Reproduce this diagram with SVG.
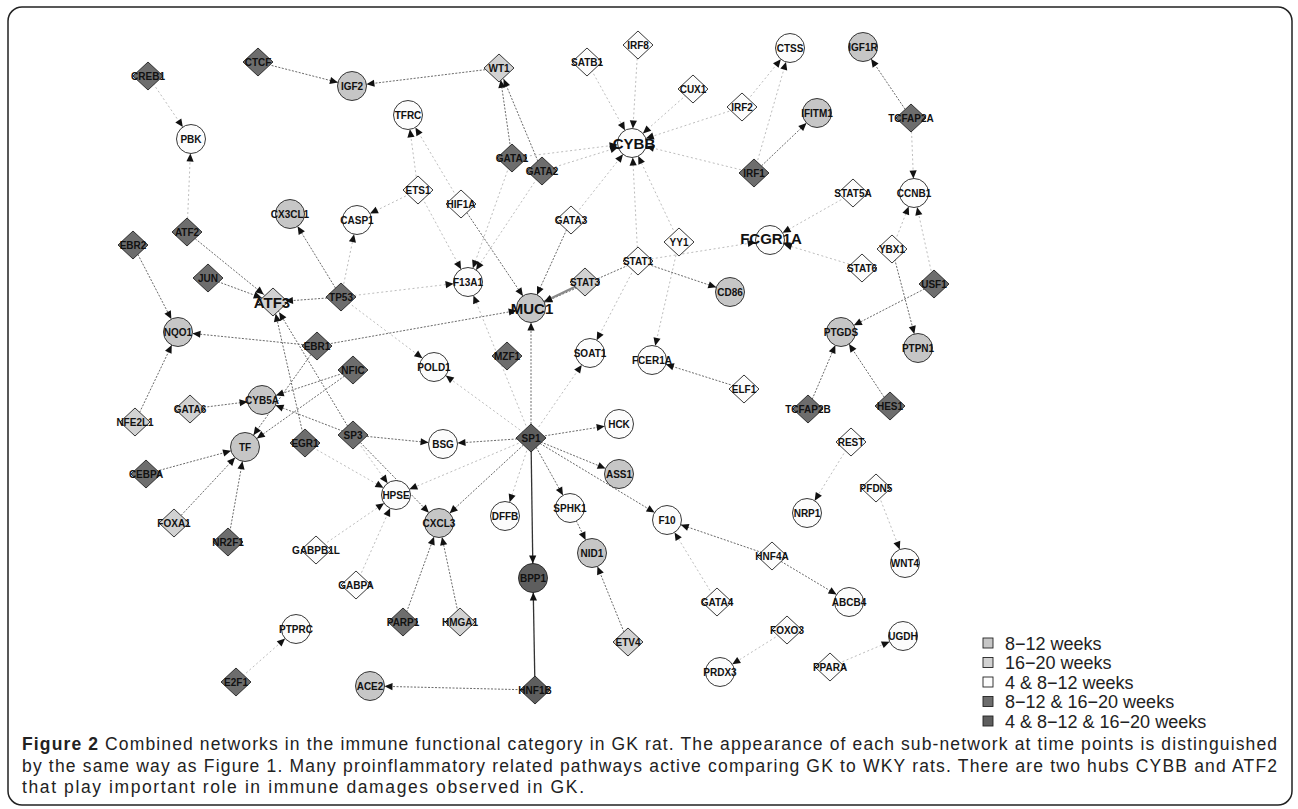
<svg xmlns="http://www.w3.org/2000/svg" width="1298" height="809" viewBox="0 0 1298 809">
<style>
.bg{fill:#fff}
.frame{fill:none;stroke:#222;stroke-width:1.5}
.e{stroke:#6a6a6a;stroke-width:1;stroke-dasharray:2 1.5;fill:none}
.f{stroke:#bdbdbd;stroke-width:1;stroke-dasharray:2 2.5;fill:none}
.s{stroke:#333;stroke-width:1.3;fill:none}
.sh{stroke:#222;stroke-width:0.9}
.dk{fill:#6d6d6d}
.dd{fill:#5e5e5e}
.lg{fill:#d2d2d2}
.gr{fill:#c6c6c6}
.wh{fill:#fcfcfc}
.l{font-family:"Liberation Sans",Arial,sans-serif;font-weight:bold;font-size:10px;fill:#111;text-anchor:middle}
.big{font-family:"Liberation Sans",Arial,sans-serif;font-weight:bold;font-size:15px;fill:#111;text-anchor:middle}
.leg{font-family:"Liberation Sans",Arial,sans-serif;font-size:18px;fill:#222}
.cap{font-family:"Liberation Sans",Arial,sans-serif;font-size:17.5px;fill:#222}
.capb{font-weight:bold}
</style>
<defs>
<marker id="ac" markerUnits="userSpaceOnUse" viewBox="-26 -6 28 12" refX="0" refY="0" markerWidth="28" markerHeight="12" orient="auto" overflow="visible">
<path d="M-14.5,0 L-22.5,-3.6 L-22.5,3.6 z" fill="#111"/>
</marker>
<marker id="ad" markerUnits="userSpaceOnUse" viewBox="-26 -6 28 12" refX="0" refY="0" markerWidth="28" markerHeight="12" orient="auto" overflow="visible">
<path d="M-12,0 L-20,-3.6 L-20,3.6 z" fill="#111"/>
</marker>
</defs>
<rect class="bg" x="0" y="0" width="1298" height="809"/>
<rect class="frame" x="8" y="7" width="1284" height="798" rx="14"/>

<g id="connectors">
<line class="f" x1="148" y1="76" x2="191" y2="139" marker-end="url(#ac)"/>
<line class="f" x1="187" y1="232" x2="191" y2="139" marker-end="url(#ac)"/>
<line class="f" x1="512" y1="158" x2="632" y2="143" marker-end="url(#ac)"/>
<line class="f" x1="542" y1="171" x2="632" y2="143" marker-end="url(#ac)"/>
<line class="f" x1="587" y1="62" x2="632" y2="143" marker-end="url(#ac)"/>
<line class="f" x1="638" y1="45" x2="632" y2="143" marker-end="url(#ac)"/>
<line class="f" x1="693" y1="89" x2="632" y2="143" marker-end="url(#ac)"/>
<line class="f" x1="742" y1="107" x2="632" y2="143" marker-end="url(#ac)"/>
<line class="f" x1="754" y1="173" x2="632" y2="143" marker-end="url(#ac)"/>
<line class="f" x1="679" y1="242" x2="632" y2="143" marker-end="url(#ac)"/>
<line class="f" x1="638" y1="261" x2="632" y2="143" marker-end="url(#ac)"/>
<line class="f" x1="571" y1="220" x2="632" y2="143" marker-end="url(#ac)"/>
<line class="f" x1="754" y1="173" x2="790" y2="48" marker-end="url(#ac)"/>
<line class="f" x1="742" y1="107" x2="790" y2="48" marker-end="url(#ac)"/>
<line class="f" x1="911" y1="118" x2="914" y2="193" marker-end="url(#ac)"/>
<line class="f" x1="892" y1="249" x2="914" y2="193" marker-end="url(#ac)"/>
<line class="f" x1="934" y1="284" x2="914" y2="193" marker-end="url(#ac)"/>
<line class="f" x1="853" y1="193" x2="770" y2="240" marker-end="url(#ac)"/>
<line class="f" x1="862" y1="268" x2="770" y2="240" marker-end="url(#ac)"/>
<line class="f" x1="638" y1="261" x2="770" y2="240" marker-end="url(#ac)"/>
<line class="f" x1="418" y1="190" x2="408" y2="115" marker-end="url(#ac)"/>
<line class="f" x1="461" y1="204" x2="408" y2="115" marker-end="url(#ac)"/>
<line class="f" x1="418" y1="190" x2="357" y2="220" marker-end="url(#ac)"/>
<line class="f" x1="341" y1="297" x2="357" y2="220" marker-end="url(#ac)"/>
<line class="f" x1="418" y1="190" x2="468" y2="282" marker-end="url(#ac)"/>
<line class="f" x1="512" y1="158" x2="468" y2="282" marker-end="url(#ac)"/>
<line class="f" x1="542" y1="171" x2="468" y2="282" marker-end="url(#ac)"/>
<line class="f" x1="341" y1="297" x2="468" y2="282" marker-end="url(#ac)"/>
<line class="f" x1="531" y1="438" x2="468" y2="282" marker-end="url(#ac)"/>
<line class="f" x1="341" y1="297" x2="434" y2="367" marker-end="url(#ac)"/>
<line class="f" x1="531" y1="438" x2="434" y2="367" marker-end="url(#ac)"/>
<line class="f" x1="531" y1="438" x2="590" y2="353" marker-end="url(#ac)"/>
<line class="f" x1="638" y1="261" x2="590" y2="353" marker-end="url(#ac)"/>
<line class="f" x1="679" y1="242" x2="652" y2="360" marker-end="url(#ac)"/>
<line class="f" x1="531" y1="438" x2="396" y2="495" marker-end="url(#ac)"/>
<line class="f" x1="531" y1="438" x2="505" y2="516" marker-end="url(#ac)"/>
<line class="f" x1="316" y1="550" x2="396" y2="495" marker-end="url(#ac)"/>
<line class="f" x1="356" y1="585" x2="396" y2="495" marker-end="url(#ac)"/>
<line class="f" x1="353" y1="435" x2="396" y2="495" marker-end="url(#ac)"/>
<line class="f" x1="305" y1="443" x2="396" y2="495" marker-end="url(#ac)"/>
<line class="f" x1="236" y1="682" x2="296" y2="629" marker-end="url(#ac)"/>
<line class="f" x1="851" y1="442" x2="807" y2="513" marker-end="url(#ac)"/>
<line class="f" x1="876" y1="488" x2="905" y2="563" marker-end="url(#ac)"/>
<line class="f" x1="717" y1="602" x2="667" y2="520" marker-end="url(#ac)"/>
<line class="f" x1="787" y1="630" x2="720" y2="672" marker-end="url(#ac)"/>
<line class="f" x1="830" y1="667" x2="903" y2="636" marker-end="url(#ac)"/>
<line class="e" x1="258" y1="62" x2="352" y2="86" marker-end="url(#ac)"/>
<line class="e" x1="499" y1="68" x2="352" y2="86" marker-end="url(#ac)"/>
<line class="e" x1="512" y1="158" x2="499" y2="68" marker-end="url(#ad)"/>
<line class="e" x1="542" y1="171" x2="499" y2="68" marker-end="url(#ad)"/>
<line class="e" x1="911" y1="118" x2="863" y2="47" marker-end="url(#ac)"/>
<line class="e" x1="754" y1="173" x2="817" y2="113" marker-end="url(#ac)"/>
<line class="e" x1="187" y1="232" x2="273" y2="302" marker-end="url(#ad)"/>
<line class="e" x1="208" y1="278" x2="273" y2="302" marker-end="url(#ad)"/>
<line class="e" x1="341" y1="297" x2="273" y2="302" marker-end="url(#ad)"/>
<line class="e" x1="305" y1="443" x2="273" y2="302" marker-end="url(#ad)"/>
<line class="e" x1="353" y1="435" x2="273" y2="302" marker-end="url(#ad)"/>
<line class="e" x1="133" y1="245" x2="178" y2="332" marker-end="url(#ac)"/>
<line class="e" x1="135" y1="422" x2="178" y2="332" marker-end="url(#ac)"/>
<line class="e" x1="317" y1="346" x2="178" y2="332" marker-end="url(#ac)"/>
<line class="e" x1="317" y1="346" x2="531" y2="308" marker-end="url(#ac)"/>
<line class="e" x1="317" y1="346" x2="245" y2="447" marker-end="url(#ac)"/>
<line class="e" x1="190" y1="409" x2="262" y2="400" marker-end="url(#ac)"/>
<line class="e" x1="353" y1="370" x2="262" y2="400" marker-end="url(#ac)"/>
<line class="e" x1="353" y1="370" x2="245" y2="447" marker-end="url(#ac)"/>
<line class="e" x1="353" y1="435" x2="262" y2="400" marker-end="url(#ac)"/>
<line class="e" x1="146" y1="474" x2="245" y2="447" marker-end="url(#ac)"/>
<line class="e" x1="174" y1="523" x2="245" y2="447" marker-end="url(#ac)"/>
<line class="e" x1="228" y1="542" x2="245" y2="447" marker-end="url(#ac)"/>
<line class="e" x1="341" y1="297" x2="290" y2="214" marker-end="url(#ac)"/>
<line class="e" x1="461" y1="204" x2="531" y2="308" marker-end="url(#ac)"/>
<line class="e" x1="571" y1="220" x2="531" y2="308" marker-end="url(#ac)"/>
<line class="e" x1="638" y1="261" x2="531" y2="308" marker-end="url(#ac)"/>
<line x1="585" y1="282" x2="531" y2="308" stroke="#8a8a8a" stroke-width="2.2" marker-end="url(#ac)"/>
<line class="e" x1="638" y1="261" x2="730" y2="292" marker-end="url(#ac)"/>
<line class="e" x1="531" y1="438" x2="531" y2="308" marker-end="url(#ac)"/>
<line class="e" x1="531" y1="438" x2="443" y2="444" marker-end="url(#ac)"/>
<line class="e" x1="353" y1="435" x2="443" y2="444" marker-end="url(#ac)"/>
<line class="e" x1="531" y1="438" x2="619" y2="474" marker-end="url(#ac)"/>
<line class="e" x1="531" y1="438" x2="439" y2="523" marker-end="url(#ac)"/>
<line class="e" x1="353" y1="435" x2="439" y2="523" marker-end="url(#ac)"/>
<line class="e" x1="531" y1="438" x2="570" y2="508" marker-end="url(#ac)"/>
<line class="e" x1="570" y1="508" x2="592" y2="553" marker-end="url(#ac)"/>
<line class="e" x1="628" y1="642" x2="592" y2="553" marker-end="url(#ac)"/>
<line class="e" x1="403" y1="622" x2="439" y2="523" marker-end="url(#ac)"/>
<line class="e" x1="460" y1="622" x2="439" y2="523" marker-end="url(#ac)"/>
<line class="e" x1="535" y1="690" x2="370" y2="686" marker-end="url(#ac)"/>
<line class="e" x1="934" y1="284" x2="841" y2="332" marker-end="url(#ac)"/>
<line class="e" x1="892" y1="249" x2="918" y2="348" marker-end="url(#ac)"/>
<line class="e" x1="808" y1="409" x2="841" y2="332" marker-end="url(#ac)"/>
<line class="e" x1="890" y1="406" x2="841" y2="332" marker-end="url(#ac)"/>
<line class="e" x1="744" y1="389" x2="652" y2="360" marker-end="url(#ac)"/>
<line class="e" x1="772" y1="556" x2="849" y2="602" marker-end="url(#ac)"/>
<line class="e" x1="772" y1="556" x2="667" y2="520" marker-end="url(#ac)"/>
<line class="e" x1="531" y1="438" x2="667" y2="520" marker-end="url(#ac)"/>
<line class="e" x1="531" y1="438" x2="619" y2="424" marker-end="url(#ac)"/>
<line class="s" x1="531" y1="438" x2="533" y2="578" marker-end="url(#ac)"/>
<line class="s" x1="535" y1="690" x2="533" y2="578" marker-end="url(#ac)"/>
</g>

<g id="nodes">
<g id="n-CREB1" transform="translate(148,76)"><polygon class="sh dk" points="0,-14 15,0 0,14 -15,0"/><text class="l" y="3.5">CREB1</text></g>
<g id="n-CTCF" transform="translate(258,62)"><polygon class="sh dk" points="0,-14 15,0 0,14 -15,0"/><text class="l" y="3.5">CTCF</text></g>
<g id="n-ATF2" transform="translate(187,232)"><polygon class="sh dk" points="0,-14 15,0 0,14 -15,0"/><text class="l" y="3.5">ATF2</text></g>
<g id="n-EBR2" transform="translate(133,245)"><polygon class="sh dk" points="0,-14 15,0 0,14 -15,0"/><text class="l" y="3.5">EBR2</text></g>
<g id="n-JUN" transform="translate(208,278)"><polygon class="sh dk" points="0,-14 15,0 0,14 -15,0"/><text class="l" y="3.5">JUN</text></g>
<g id="n-ATF3" transform="translate(273,302)"><polygon class="sh lg" points="0,-14 15,0 0,14 -15,0"/><text class="big" x="-1" y="5.5">ATF3</text></g>
<g id="n-TP53" transform="translate(341,297)"><polygon class="sh dk" points="0,-14 15,0 0,14 -15,0"/><text class="l" y="3.5">TP53</text></g>
<g id="n-EBR1" transform="translate(317,346)"><polygon class="sh dk" points="0,-14 15,0 0,14 -15,0"/><text class="l" y="3.5">EBR1</text></g>
<g id="n-NFIC" transform="translate(353,370)"><polygon class="sh dk" points="0,-14 15,0 0,14 -15,0"/><text class="l" y="3.5">NFIC</text></g>
<g id="n-SP3" transform="translate(353,435)"><polygon class="sh dk" points="0,-14 15,0 0,14 -15,0"/><text class="l" y="3.5">SP3</text></g>
<g id="n-EGR1" transform="translate(305,443)"><polygon class="sh dk" points="0,-14 15,0 0,14 -15,0"/><text class="l" y="3.5">EGR1</text></g>
<g id="n-GATA6" transform="translate(190,409)"><polygon class="sh lg" points="0,-14 15,0 0,14 -15,0"/><text class="l" y="3.5">GATA6</text></g>
<g id="n-NFE2L1" transform="translate(135,422)"><polygon class="sh lg" points="0,-14 15,0 0,14 -15,0"/><text class="l" y="3.5">NFE2L1</text></g>
<g id="n-CEBPA" transform="translate(146,474)"><polygon class="sh dk" points="0,-14 15,0 0,14 -15,0"/><text class="l" y="3.5">CEBPA</text></g>
<g id="n-FOXA1" transform="translate(174,523)"><polygon class="sh lg" points="0,-14 15,0 0,14 -15,0"/><text class="l" y="3.5">FOXA1</text></g>
<g id="n-NR2F1" transform="translate(228,542)"><polygon class="sh dk" points="0,-14 15,0 0,14 -15,0"/><text class="l" y="3.5">NR2F1</text></g>
<g id="n-GABPB1L" transform="translate(316,550)"><polygon class="sh wh" points="0,-14 15,0 0,14 -15,0"/><text class="l" y="3.5">GABPB1L</text></g>
<g id="n-GABPA" transform="translate(356,585)"><polygon class="sh wh" points="0,-14 15,0 0,14 -15,0"/><text class="l" y="3.5">GABPA</text></g>
<g id="n-E2F1" transform="translate(236,682)"><polygon class="sh dk" points="0,-14 15,0 0,14 -15,0"/><text class="l" y="3.5">E2F1</text></g>
<g id="n-PARP1" transform="translate(403,622)"><polygon class="sh dk" points="0,-14 15,0 0,14 -15,0"/><text class="l" y="3.5">PARP1</text></g>
<g id="n-HMGA1" transform="translate(460,622)"><polygon class="sh lg" points="0,-14 15,0 0,14 -15,0"/><text class="l" y="3.5">HMGA1</text></g>
<g id="n-HNF1B" transform="translate(535,690)"><polygon class="sh dd" points="0,-14 15,0 0,14 -15,0"/><text class="l" y="3.5">HNF1B</text></g>
<g id="n-SP1" transform="translate(531,438)"><polygon class="sh dd" points="0,-14 15,0 0,14 -15,0"/><text class="l" y="3.5">SP1</text></g>
<g id="n-MZF1" transform="translate(507,356)"><polygon class="sh dk" points="0,-14 15,0 0,14 -15,0"/><text class="l" y="3.5">MZF1</text></g>
<g id="n-WT1" transform="translate(499,68)"><polygon class="sh lg" points="0,-14 15,0 0,14 -15,0"/><text class="l" y="3.5">WT1</text></g>
<g id="n-SATB1" transform="translate(587,62)"><polygon class="sh wh" points="0,-14 15,0 0,14 -15,0"/><text class="l" y="3.5">SATB1</text></g>
<g id="n-IRF8" transform="translate(638,45)"><polygon class="sh wh" points="0,-14 15,0 0,14 -15,0"/><text class="l" y="3.5">IRF8</text></g>
<g id="n-GATA1" transform="translate(512,158)"><polygon class="sh dk" points="0,-14 15,0 0,14 -15,0"/><text class="l" y="3.5">GATA1</text></g>
<g id="n-GATA2" transform="translate(542,171)"><polygon class="sh dk" points="0,-14 15,0 0,14 -15,0"/><text class="l" y="3.5">GATA2</text></g>
<g id="n-ETS1" transform="translate(418,190)"><polygon class="sh wh" points="0,-14 15,0 0,14 -15,0"/><text class="l" y="3.5">ETS1</text></g>
<g id="n-HIF1A" transform="translate(461,204)"><polygon class="sh wh" points="0,-14 15,0 0,14 -15,0"/><text class="l" y="3.5">HIF1A</text></g>
<g id="n-GATA3" transform="translate(571,220)"><polygon class="sh wh" points="0,-14 15,0 0,14 -15,0"/><text class="l" y="3.5">GATA3</text></g>
<g id="n-STAT3" transform="translate(585,282)"><polygon class="sh lg" points="0,-14 15,0 0,14 -15,0"/><text class="l" y="3.5">STAT3</text></g>
<g id="n-STAT1" transform="translate(638,261)"><polygon class="sh wh" points="0,-14 15,0 0,14 -15,0"/><text class="l" y="3.5">STAT1</text></g>
<g id="n-CUX1" transform="translate(693,89)"><polygon class="sh wh" points="0,-14 15,0 0,14 -15,0"/><text class="l" y="3.5">CUX1</text></g>
<g id="n-IRF2" transform="translate(742,107)"><polygon class="sh wh" points="0,-14 15,0 0,14 -15,0"/><text class="l" y="3.5">IRF2</text></g>
<g id="n-IRF1" transform="translate(754,173)"><polygon class="sh dk" points="0,-14 15,0 0,14 -15,0"/><text class="l" y="3.5">IRF1</text></g>
<g id="n-TCFAP2A" transform="translate(911,118)"><polygon class="sh dk" points="0,-14 15,0 0,14 -15,0"/><text class="l" y="3.5">TCFAP2A</text></g>
<g id="n-STAT5A" transform="translate(853,193)"><polygon class="sh wh" points="0,-14 15,0 0,14 -15,0"/><text class="l" y="3.5">STAT5A</text></g>
<g id="n-YY1" transform="translate(679,242)"><polygon class="sh wh" points="0,-14 15,0 0,14 -15,0"/><text class="l" y="3.5">YY1</text></g>
<g id="n-STAT6" transform="translate(862,268)"><polygon class="sh wh" points="0,-14 15,0 0,14 -15,0"/><text class="l" y="3.5">STAT6</text></g>
<g id="n-YBX1" transform="translate(892,249)"><polygon class="sh wh" points="0,-14 15,0 0,14 -15,0"/><text class="l" y="3.5">YBX1</text></g>
<g id="n-USF1" transform="translate(934,284)"><polygon class="sh dk" points="0,-14 15,0 0,14 -15,0"/><text class="l" y="3.5">USF1</text></g>
<g id="n-ELF1" transform="translate(744,389)"><polygon class="sh wh" points="0,-14 15,0 0,14 -15,0"/><text class="l" y="3.5">ELF1</text></g>
<g id="n-TCFAP2B" transform="translate(808,409)"><polygon class="sh dk" points="0,-14 15,0 0,14 -15,0"/><text class="l" y="3.5">TCFAP2B</text></g>
<g id="n-HES1" transform="translate(890,406)"><polygon class="sh dk" points="0,-14 15,0 0,14 -15,0"/><text class="l" y="3.5">HES1</text></g>
<g id="n-REST" transform="translate(851,442)"><polygon class="sh wh" points="0,-14 15,0 0,14 -15,0"/><text class="l" y="3.5">REST</text></g>
<g id="n-PFDN5" transform="translate(876,488)"><polygon class="sh wh" points="0,-14 15,0 0,14 -15,0"/><text class="l" y="3.5">PFDN5</text></g>
<g id="n-HNF4A" transform="translate(772,556)"><polygon class="sh wh" points="0,-14 15,0 0,14 -15,0"/><text class="l" y="3.5">HNF4A</text></g>
<g id="n-GATA4" transform="translate(717,602)"><polygon class="sh wh" points="0,-14 15,0 0,14 -15,0"/><text class="l" y="3.5">GATA4</text></g>
<g id="n-FOXO3" transform="translate(787,630)"><polygon class="sh wh" points="0,-14 15,0 0,14 -15,0"/><text class="l" y="3.5">FOXO3</text></g>
<g id="n-PPARA" transform="translate(830,667)"><polygon class="sh wh" points="0,-14 15,0 0,14 -15,0"/><text class="l" y="3.5">PPARA</text></g>
<g id="n-ETV4" transform="translate(628,642)"><polygon class="sh lg" points="0,-14 15,0 0,14 -15,0"/><text class="l" y="3.5">ETV4</text></g>

<g id="n-PBK" transform="translate(191,139)"><circle class="sh wh" r="14.5"/><text class="l" y="3.5">PBK</text></g>
<g id="n-IGF2" transform="translate(352,86)"><circle class="sh gr" r="14.5"/><text class="l" y="3.5">IGF2</text></g>
<g id="n-TFRC" transform="translate(408,115)"><circle class="sh wh" r="14.5"/><text class="l" y="3.5">TFRC</text></g>
<g id="n-CX3CL1" transform="translate(290,214)"><circle class="sh gr" r="14.5"/><text class="l" y="3.5">CX3CL1</text></g>
<g id="n-CASP1" transform="translate(357,220)"><circle class="sh wh" r="14.5"/><text class="l" y="3.5">CASP1</text></g>
<g id="n-CYBB" transform="translate(632,143)"><circle class="sh wh" r="14.5"/><text class="big" x="2" y="5.5">CYBB</text></g>
<g id="n-CTSS" transform="translate(790,48)"><circle class="sh wh" r="14.5"/><text class="l" y="3.5">CTSS</text></g>
<g id="n-IGF1R" transform="translate(863,47)"><circle class="sh gr" r="14.5"/><text class="l" y="3.5">IGF1R</text></g>
<g id="n-IFITM1" transform="translate(817,113)"><circle class="sh gr" r="14.5"/><text class="l" y="3.5">IFITM1</text></g>
<g id="n-CCNB1" transform="translate(914,193)"><circle class="sh wh" r="14.5"/><text class="l" y="3.5">CCNB1</text></g>
<g id="n-FCGR1A" transform="translate(770,240)"><circle class="sh wh" r="14.5"/><text class="big" x="1" y="3.5">FCGR1A</text></g>
<g id="n-F13A1" transform="translate(468,282)"><circle class="sh wh" r="14.5"/><text class="l" y="3.5">F13A1</text></g>
<g id="n-MUC1" transform="translate(531,308)"><circle class="sh gr" r="14.5"/><text class="big" x="1" y="5.5">MUC1</text></g>
<g id="n-CD86" transform="translate(730,292)"><circle class="sh gr" r="14.5"/><text class="l" y="3.5">CD86</text></g>
<g id="n-NQO1" transform="translate(178,332)"><circle class="sh gr" r="14.5"/><text class="l" y="3.5">NQO1</text></g>
<g id="n-POLD1" transform="translate(434,367)"><circle class="sh wh" r="14.5"/><text class="l" y="3.5">POLD1</text></g>
<g id="n-SOAT1" transform="translate(590,353)"><circle class="sh wh" r="14.5"/><text class="l" y="3.5">SOAT1</text></g>
<g id="n-FCER1A" transform="translate(652,360)"><circle class="sh wh" r="14.5"/><text class="l" y="3.5">FCER1A</text></g>
<g id="n-PTGDS" transform="translate(841,332)"><circle class="sh gr" r="14.5"/><text class="l" y="3.5">PTGDS</text></g>
<g id="n-PTPN1" transform="translate(918,348)"><circle class="sh gr" r="14.5"/><text class="l" y="3.5">PTPN1</text></g>
<g id="n-CYB5A" transform="translate(262,400)"><circle class="sh gr" r="14.5"/><text class="l" y="3.5">CYB5A</text></g>
<g id="n-TF" transform="translate(245,447)"><circle class="sh gr" r="14.5"/><text class="l" y="3.5">TF</text></g>
<g id="n-BSG" transform="translate(443,444)"><circle class="sh wh" r="14.5"/><text class="l" y="3.5">BSG</text></g>
<g id="n-HCK" transform="translate(619,424)"><circle class="sh wh" r="14.5"/><text class="l" y="3.5">HCK</text></g>
<g id="n-ASS1" transform="translate(619,474)"><circle class="sh gr" r="14.5"/><text class="l" y="3.5">ASS1</text></g>
<g id="n-HPSE" transform="translate(396,495)"><circle class="sh wh" r="14.5"/><text class="l" y="3.5">HPSE</text></g>
<g id="n-CXCL3" transform="translate(439,523)"><circle class="sh gr" r="14.5"/><text class="l" y="3.5">CXCL3</text></g>
<g id="n-DFFB" transform="translate(505,516)"><circle class="sh wh" r="14.5"/><text class="l" y="3.5">DFFB</text></g>
<g id="n-SPHK1" transform="translate(570,508)"><circle class="sh wh" r="14.5"/><text class="l" y="3.5">SPHK1</text></g>
<g id="n-F10" transform="translate(667,520)"><circle class="sh wh" r="14.5"/><text class="l" y="3.5">F10</text></g>
<g id="n-NRP1" transform="translate(807,513)"><circle class="sh wh" r="14.5"/><text class="l" y="3.5">NRP1</text></g>
<g id="n-NID1" transform="translate(592,553)"><circle class="sh gr" r="14.5"/><text class="l" y="3.5">NID1</text></g>
<g id="n-WNT4" transform="translate(905,563)"><circle class="sh wh" r="14.5"/><text class="l" y="3.5">WNT4</text></g>
<g id="n-BPP1" transform="translate(533,578)"><circle class="sh dd" r="14.5"/><text class="l" y="3.5">BPP1</text></g>
<g id="n-ABCB4" transform="translate(849,602)"><circle class="sh wh" r="14.5"/><text class="l" y="3.5">ABCB4</text></g>
<g id="n-PTPRC" transform="translate(296,629)"><circle class="sh wh" r="14.5"/><text class="l" y="3.5">PTPRC</text></g>
<g id="n-UGDH" transform="translate(903,636)"><circle class="sh wh" r="14.5"/><text class="l" y="3.5">UGDH</text></g>
<g id="n-PRDX3" transform="translate(720,672)"><circle class="sh wh" r="14.5"/><text class="l" y="3.5">PRDX3</text></g>
<g id="n-ACE2" transform="translate(370,686)"><circle class="sh gr" r="14.5"/><text class="l" y="3.5">ACE2</text></g>
</g>

<g id="legend">
<rect class="sh gr" x="983" y="638" width="10" height="10"/><text class="leg" x="1005" y="649.5">8−12 weeks</text>
<rect class="sh lg" x="983" y="657.5" width="10" height="10"/><text class="leg" x="1005" y="669">16−20 weeks</text>
<rect class="sh wh" x="983" y="677" width="10" height="10"/><text class="leg" x="1005" y="688.5">4 &amp; 8−12 weeks</text>
<rect class="sh dk" x="983" y="696.5" width="10" height="10"/><text class="leg" x="1005" y="708">8−12 &amp; 16−20 weeks</text>
<rect class="sh dd" x="983" y="716" width="10" height="10"/><text class="leg" x="1005" y="727.5">4 &amp; 8−12 &amp; 16−20 weeks</text>
</g>

<g id="caption">
<text class="cap" x="22" y="750" textLength="1255" lengthAdjust="spacing"><tspan class="capb">Figure 2</tspan> Combined networks in the immune functional category in GK rat. The appearance of each sub-network at time points is distinguished</text>
<text class="cap" x="22" y="772" textLength="1255" lengthAdjust="spacing">by the same way as Figure 1. Many proinflammatory related pathways active comparing GK to WKY rats. There are two hubs CYBB and ATF2</text>
<text class="cap" x="22" y="793" textLength="562" lengthAdjust="spacing">that play important role in immune damages observed in GK.</text>
</g>
</svg>
